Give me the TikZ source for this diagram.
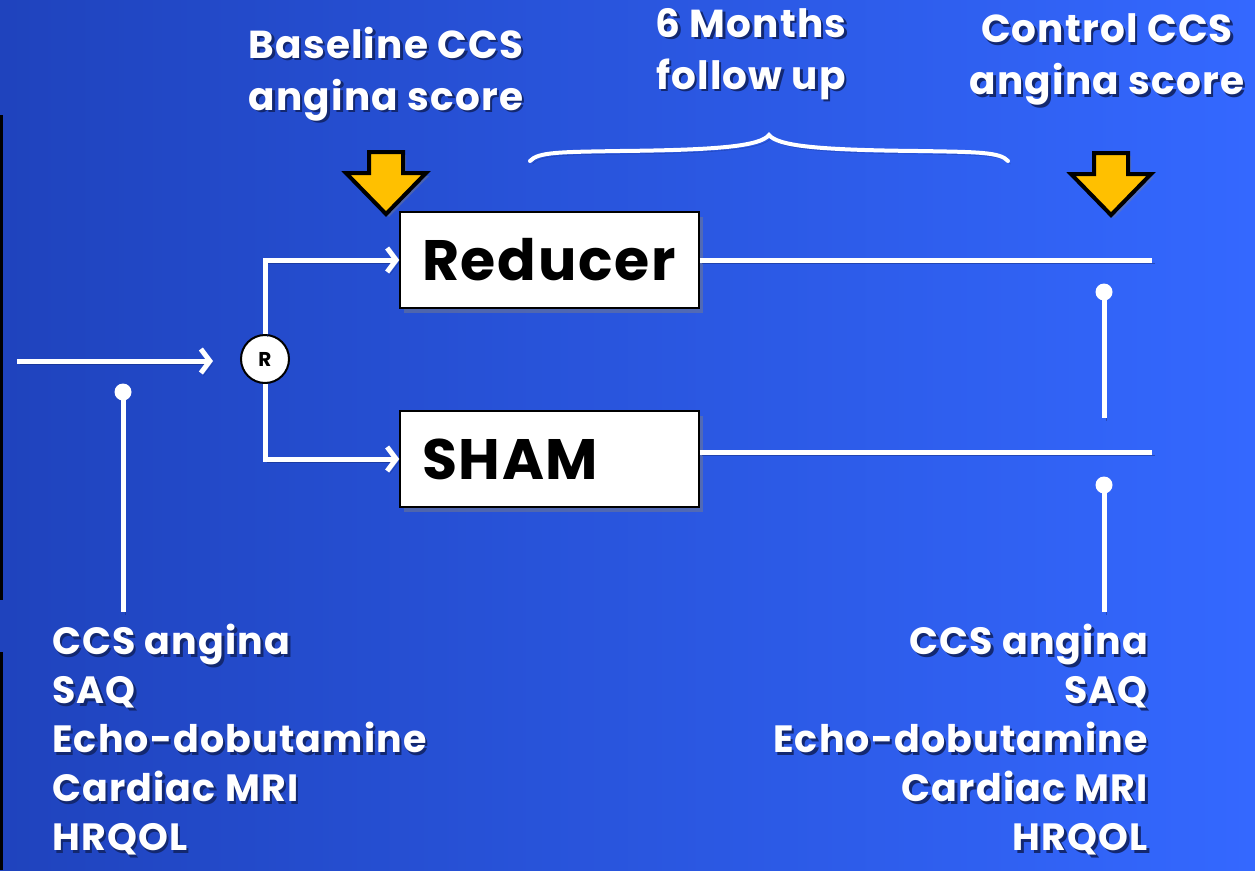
\documentclass[tikz,border=0pt]{standalone}
\usepackage{fontspec}
\setmainfont{Poppins}[LetterSpace=3]
\usepackage{tikz}
\usetikzlibrary{arrows.meta, calc, positioning, shadows}
\definecolor{bgdark}{HTML}{1F43BD}
\definecolor{bglight}{HTML}{3468FF}
\definecolor{marker}{HTML}{FFC000}
\definecolor{txtshadow}{HTML}{132870}
% white text with a dark copy underneath
\newcommand{\shtext}[1]{\leavevmode\rlap{\hspace{2.5pt}\raisebox{-2.5pt}{\textcolor{txtshadow}{#1}}}#1}
\tikzset{
x=1pt, y=-1pt, % pixel units, y grows downwards
>={Straight Barb[length=9pt,width=24pt,line width=5pt]}, % open arrow heads
lineshadow/.style={preaction={draw=txtshadow, draw opacity=0.45, transform canvas={shift={(2.5pt,-3pt)}}}},
link/.style={draw=white, line width=5pt, lineshadow},
box/.style={draw=black, line width=1.5pt, fill=white, text width=255pt, inner xsep=22pt,
  minimum height=96pt, align=left, font=\bfseries\fontsize{57}{60}\selectfont,
  drop shadow={shadow xshift=4pt, shadow yshift=-5pt, opacity=0.45}},
rnode/.style={circle, draw=black, line width=2pt, fill=white, minimum size=48pt, inner sep=0pt,
  font=\bfseries\fontsize{20}{20}\selectfont},
dot/.style={circle, fill=white, minimum size=17pt, inner sep=0pt},
heading/.style={text=white, font=\bfseries\fontsize{39}{52}\selectfont, align=center, inner sep=0pt},
listtxt/.style={text=white, font=\bfseries\fontsize{38}{49}\selectfont, inner sep=0pt},
marker/.pic={
  \draw[line width=4pt, line join=miter, fill=marker,
    drop shadow={shadow xshift=3pt, shadow yshift=-3pt, opacity=0.4}]
    (-17,0) -- (17,0) -- (17,21) -- (40,21) -- (0,62) -- (-40,21) -- (-17,21) -- cycle;
},
}
\begin{document}
\begin{tikzpicture}
  % background
  \shade[left color=bgdark, right color=bglight] (0,0) rectangle (1255,870);
  \fill[black] (0,115) rectangle (3,600);
  \fill[black] (0,652) rectangle (3,870);

  % headings
  \node[heading] (basetxt) at (386,75) {\shtext{Baseline CCS}\\\shtext{angina score}};
  \node[heading] (followtxt) at (751,55) {\shtext{6 Months}\\\shtext{follow up}};
  \node[heading] (ctrltxt) at (1107,61) {\shtext{Control CCS}\\\shtext{angina score}};

  % brace over the follow up period
  \draw[link, line width=4pt, line cap=round]
    (530,161) .. controls (538,152) and (560,152) .. (620,151)
    .. controls (720,150) and (760,146) .. (769,135)
    .. controls (778,146) and (818,150) .. (918,151)
    .. controls (978,152) and (1000,152) .. (1008,161);

  % assessment markers
  \pic at (386,152) {marker};
  \pic at (1111,153) {marker};

  % arms
  \node[box] (reducer) at (549.5,260) {Reducer};
  \node[box] (sham) at (549.5,459) {SHAM};
  \node[rnode] (rand) at (265,359) {R};

  \coordinate (start) at (17,361);
  \coordinate (entry) at (213,361);
  \draw[link,->] (start) -- (entry);
  \draw[link,->] (rand.north) |- (reducer.west);
  \draw[link,->] (rand.south) |- (sham.west);

  \coordinate (redend) at (1152,260);
  \coordinate (shamend) at (1152,452);
  \draw[link] (reducer.east) -- (redend);
  \draw[link] (sham.east |- shamend) -- (shamend);

  % timepoints
  \node[dot] (pre) at (123,392) {};
  \coordinate (prefoot) at (123,612);
  \draw[link] (pre.center) -- (prefoot);
  \node[dot] (mid) at (1104,292) {};
  \coordinate (midfoot) at (1104,418);
  \draw[link] (mid.center) -- (midfoot);
  \node[dot] (post) at (1104,485) {};
  \coordinate (postfoot) at (1104,612);
  \draw[link] (post.center) -- (postfoot);

  % outcome lists
  \node[listtxt, anchor=north west, align=left] (prelist) at (52,624)
    {\shtext{CCS angina}\\\shtext{SAQ}\\\shtext{Echo-dobutamine}\\\shtext{Cardiac MRI}\\\shtext{HRQOL}};
  \node[listtxt, anchor=north east, align=right] (postlist) at (1148,624)
    {\shtext{CCS angina}\\\shtext{SAQ}\\\shtext{Echo-dobutamine}\\\shtext{Cardiac MRI}\\\shtext{HRQOL}};
\end{tikzpicture}
\end{document}
